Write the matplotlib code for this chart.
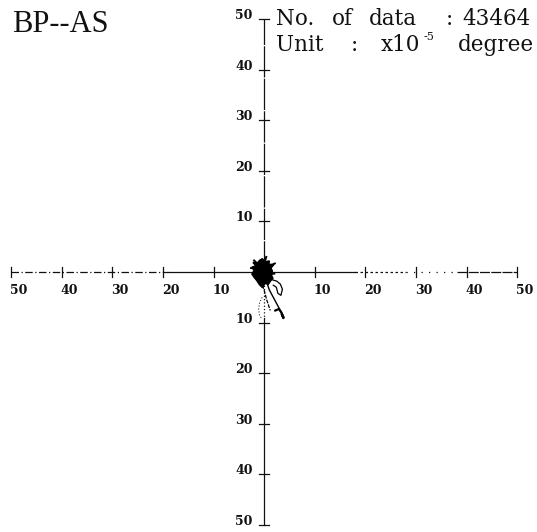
import matplotlib
matplotlib.use("Agg")
import matplotlib.pyplot as plt

# ---------------------------------------------------------------
# Data (units of 1e-5 degree)
# ---------------------------------------------------------------
TICKS = [10, 20, 30, 40, 50]
N_DATA = 43464

# outline of the dense cloud of points around the origin
blob_x = [-0.4, 0.3, 1.0, 0.9, 1.9, 1.3, 1.6, 1.4, 1.7, 1.2, 0.8, 0.2,
          -0.4, -0.9, -1.5, -2.0, -2.4, -2.0, -2.3, -1.6, -2.2, -1.3, -0.9]
blob_y = [2.6, 2.0, 2.2, 1.5, 1.5, 0.8, 0.2, -0.6, -1.2, -1.8, -2.4, -2.2,
          -3.0, -2.5, -1.6, -1.0, -0.4, 0.3, 1.0, 1.2, 1.9, 1.8, 2.3]

# traces leaving the cloud
trail1_x = [0.5, 1.0, 1.8, 2.6, 3.3, 3.9]
trail1_y = [-2.0, -3.5, -5.0, -6.5, -7.8, -8.9]
trail2_x = [-0.3, 0.1, 0.5, 0.9, 1.2]
trail2_y = [-2.6, -4.0, -5.5, -6.7, -7.6]
hook_x = [2.2, 2.9, 3.4, 3.8, 3.5]
hook_y = [-7.6, -7.3, -8.0, -9.1, -8.4]
loop_x = [1.5, 2.5, 3.2, 3.6, 3.3, 2.7, 2.4, 1.8]
loop_y = [-1.5, -1.8, -2.4, -3.4, -4.6, -4.2, -3.0, -2.6]
lloop_x = [-0.4, -0.9, -1.1, -0.9, -0.5]
lloop_y = [-5.0, -6.0, -7.4, -8.6, -9.2]
spike_x = [[-0.6, -2.0], [0.6, 2.1], [0.0, 0.4], [-0.8, -2.6], [0.9, 2.0]]
spike_y = [[1.0, 2.3], [0.9, 1.7], [1.5, 3.0], [0.4, 0.8], [-0.5, -0.3]]

# ---------------------------------------------------------------
# Canvas
# ---------------------------------------------------------------
W, H = 537, 532
fig = plt.figure(figsize=(W / 100, H / 100), dpi=100)
ax = fig.add_axes([0, 0, 1, 1])
ax.set_xlim(-52.2, 53.9)
ax.set_ylim(-51.4, 53.8)
ax.axis("off")

K = "#111111"

def px_text(x, y, s, **kw):
    """text placed in image pixels (y counted from the top)"""
    fig.text(x / W, 1 - y / H, s, **kw)

# axes drawn piece by piece (the scan shows broken stretches)
segs = [
    ((-50, -19), (0, 0), (0, (6, 2, 1, 2))),
    ((-19, 0), (0, 0), "-"),
    ((0, 18), (0, 0), "-"),
    ((18, 28), (0, 0), (0, (2, 2))),
    ((28, 38), (0, 0), (0, (1, 5))),
    ((38, 50), (0, 0), (0, (8, 1))),
    ((0, 0), (0, 50), (0, (25, 1))),
    ((0, 0), (0, -9), ":"),
    ((0, 0), (-9, -50), "-"),
]
for xs, ys, ls in segs:
    ax.plot(xs, ys, color=K, lw=0.9, ls=ls, zorder=2)

# tick marks and labels
for t in TICKS:
    for s in (-1, 1):
        ax.plot([s * t, s * t], [-1.0, 1.0], color=K, lw=0.9, zorder=2)
        ax.plot([-1.0, 1.0], [s * t, s * t], color=K, lw=0.9, zorder=2)
        ax.text(s * t + 1.5, -3.6, str(t), ha="center", va="center",
                fontsize=9, fontweight="bold", family="DejaVu Serif", color=K)
        ax.text(-2.3, s * t + 0.7, str(t), ha="right", va="center",
                fontsize=9, fontweight="bold", family="DejaVu Serif", color=K)

# point cloud
ax.fill(blob_x, blob_y, color="#000000", lw=1.2, ec="#000000", zorder=3)
for sx, sy in zip(spike_x, spike_y):
    ax.plot(sx, sy, color="#000000", lw=1.4, zorder=3)
ax.plot(trail1_x, trail1_y, color="#000000", lw=1.0, zorder=3)
ax.plot(trail2_x, trail2_y, color="#000000", lw=0.9, ls=(0, (3, 1)), zorder=3)
ax.plot(hook_x, hook_y, color="#000000", lw=1.6, zorder=3)
ax.plot(loop_x, loop_y, color="#000000", lw=0.9, zorder=3)
ax.plot(lloop_x, lloop_y, color="#333333", lw=0.8, ls=":", zorder=3)

# annotations
TF = dict(family="DejaVu Serif", fontsize=15.5, color=K, va="baseline", ha="left")
px_text(12, 32, "BP--AS", family="Liberation Serif", fontsize=22,
        color=K, va="baseline", ha="left")
for word, x in [("No.", 276), ("of", 332), ("data", 369), (":", 446),
                (str(N_DATA), 462)]:
    px_text(x, 25, word, **TF)
for word, x in [("Unit", 276), (":", 351), ("x10", 381), ("degree", 458)]:
    px_text(x, 51, word, **TF)
px_text(424, 40, "-5", family="DejaVu Serif", fontsize=8, color=K,
        va="baseline", ha="left")

fig.savefig("out.png", dpi=100, facecolor="white")
